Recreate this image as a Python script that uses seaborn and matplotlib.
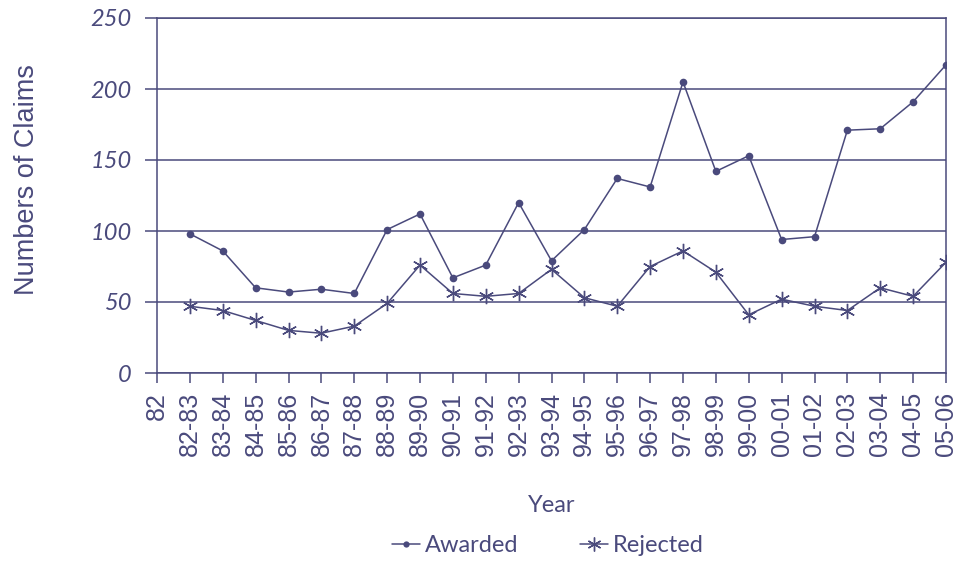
import pandas as pd
import matplotlib
matplotlib.use('Agg')
import matplotlib.pyplot as plt
import seaborn as sns

# tick labels along the x axis (first one has no data)
tick_labels = ['82', '82-83', '83-84', '84-85', '85-86', '86-87', '87-88', '88-89',
               '89-90', '90-91', '91-92', '92-93', '93-94', '94-95', '95-96', '96-97',
               '97-98', '98-99', '99-00', '00-01', '01-02', '02-03', '03-04', '04-05',
               '05-06']
years = tick_labels[1:]

awarded = [98, 86, 60, 57, 59, 56, 101, 112, 67, 76, 120, 79, 101, 137, 131,
           205, 142, 153, 94, 96, 171, 172, 191, 217]
rejected = [47, 44, 37, 30, 28, 33, 49, 76, 56, 54, 56, 73, 53, 47, 75,
            86, 71, 41, 52, 47, 44, 60, 54, 78]

col = '#4a4a7c'

df = pd.DataFrame({'year': years, 'Awarded': awarded, 'Rejected': rejected})
df['pos'] = df['year'].apply(tick_labels.index)

sns.set_style('white')
plt.rcParams['font.family'] = ['Liberation Sans', 'DejaVu Sans']

fig = plt.figure(figsize=(9.64, 5.63), dpi=100)
ax = fig.add_axes([157 / 964, 1 - 373 / 563, 789 / 964, 355 / 563])

sns.lineplot(data=df, x='pos', y='Awarded', color=col, linewidth=1.1, marker='o',
             markersize=5.5, markeredgewidth=0, label='Awarded', legend=False, ax=ax)
sns.lineplot(data=df, x='pos', y='Rejected', color=col, linewidth=1.1, marker=(6, 2, 0),
             markersize=11, markeredgewidth=1.0, markeredgecolor=col, label='Rejected',
             legend=False, ax=ax)

ax.set_xlim(0, len(tick_labels) - 1)
ax.set_ylim(0, 250)
ax.set_xticks(range(len(tick_labels)))
ax.set_xticklabels(tick_labels, rotation=90, fontsize=18, color=col)
ax.set_yticks([0, 50, 100, 150, 200, 250])
ax.set_yticklabels(['0', '50', '100', '150', '200', '250'], fontsize=17, color=col,
                   family='Lato', style='italic')
ax.yaxis.grid(True, color=col, linewidth=1.1)
ax.xaxis.grid(False)
for s in ax.spines.values():
    s.set_color(col)
    s.set_linewidth(1.1)
ax.tick_params(axis='y', direction='out', length=9, width=1.1, color=col, pad=9, left=True)
ax.tick_params(axis='x', direction='out', length=7.5, width=1.1, color=col, pad=6, bottom=True)

ax.set_ylabel('Numbers of Claims', fontsize=19.5, color=col)
ax.yaxis.set_label_coords(-0.148, 0.544)
ax.set_xlabel('Year', fontsize=17, color=col, family='Lato')
ax.xaxis.set_label_coords(0.5, -0.345)

h1, = ax.plot([], [], color=col, marker='o', markersize=4.5, markeredgewidth=0, linewidth=1.1)
h2, = ax.plot([], [], color=col, marker=(6, 2, 0), markersize=10, linewidth=1.1,
              markeredgewidth=1.0, markeredgecolor=col)
fig.legend([h1, h2], ['Awarded', 'Rejected'], loc='center', bbox_to_anchor=(548 / 964, 1 - 546 / 563),
           ncol=2, frameon=False, handlelength=1.2, handletextpad=0.2, columnspacing=2.6,
           prop={'family': 'Lato', 'size': 17}, labelcolor=col)

fig.savefig('out.png', dpi=100)
